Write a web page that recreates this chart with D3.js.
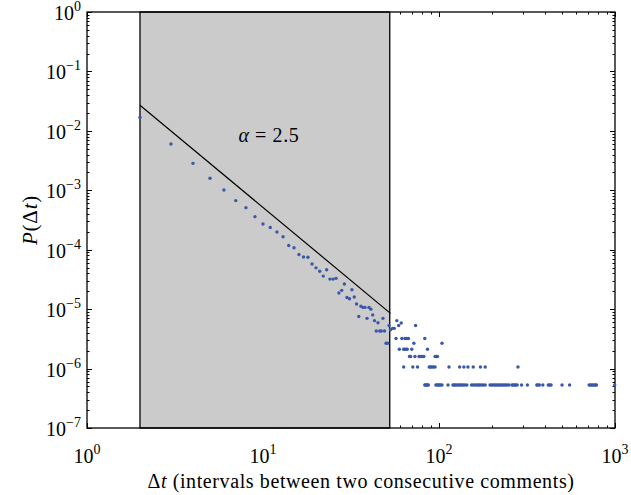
<!DOCTYPE html>
<html><head><meta charset="utf-8">
<script src="https://cdn.jsdelivr.net/npm/d3@7"></script>
<style>body{margin:0;background:#fff}</style>
</head><body><svg id="c" width="631" height="495"></svg>
<script>
// ---- data ----
const headDt = [2,3,4,5,6,7,8,9,10,11,12,13,14,15,16,17,18,19,20,21,22,23,24,25,26,27,28,29,30,31,32,33,34,35,36,37,38,39,40,41,42,43,44,45,46,47,48,49,50,51,52,53];
const headP = [1.69e-2,6.0e-3,2.84e-3,1.59e-3,1.01e-3,6.7e-4,5.1e-4,3.6e-4,2.71e-4,2.36e-4,1.99e-4,1.65e-4,1.18e-4,1.08e-4,8.3e-5,7.55e-5,7.45e-5,5.75e-5,4.95e-5,4.35e-5,3.6e-5,4.6e-5,3.2e-5,3.2e-5,3.3e-5,1.87e-5,2.07e-5,2.65e-5,1.57e-5,1.5e-5,2.12e-5,1.6e-5,1.22e-5,7.5e-6,1.12e-5,1.07e-5,1.07e-5,7.0e-6,1.07e-5,1.0e-5,8.0e-6,6.4e-6,4.3e-6,5.9e-6,4.3e-6,4.3e-6,7.0e-6,4.3e-6,2.66e-6,2.66e-6,5.3e-6,4.5e-6];
const tailLevels = [6.4e-6,5.85e-6,5.3e-6,4.75e-6,3.2e-6,2.66e-6,2.12e-6,1.6e-6,1.06e-6,5.3e-7];
const tailDt = [
  [57.6],
  [61],
  [59,73.6],
  [54.5,55.7],
  [57,61.5,64,65.5,67,83],
  [72,104],
  [59.5,63,64,65,66,70,86],
  [68,69,73,77,78,80,82,95,96.5,98],
  [63,71,75.5,88,89.5,91,93,95,114,131,138.5,146,156.5,172,183,281],
  [83,84,85,86,87,96,97.5,99,100.5,102,104,112.5,120,122,124,126.5,129,131.5,134,137,140,144,153,156,160,163.5,167,170,174,178,183,195,199,203.5,207.5,211.5,216,220.5,225,229.5,234,239,244,250,260,264,269,273,278,294.5,318,359.5,365,372,389,418,425,433.5,500,552,713,725,738,750,763,775,785,996]
];
const fitDt = [2, 53];
const fitP = [0.027, 8.5e-6];
const spanDt = [2, 52.5];
const xTickExp = [0,1,2,3];
const yTickExp = [0,-1,-2,-3,-4,-5,-6,-7];
const labelPos = [10.8, 6.6e-3];

// ---- drawing ----
const W = 631, H = 495;
const m = {l:87, r:615, t:12, b:428};
const svg = d3.select('#c');
const FONT = '"Liberation Serif","DejaVu Serif",serif';
svg.append('rect').attr('width',W).attr('height',H).attr('fill','#fff');

const x = d3.scaleLog().domain([1,1000]).range([m.l,m.r]);
const y = d3.scaleLog().domain([1e-7,1]).range([m.b,m.t]);

// ticks (inward, all sides)
const tg = svg.append('g').attr('stroke','#000').attr('stroke-width',1);
const xt = [], yt = [];
for (let e=0;e<3;e++) for (let k=1;k<10;k++) xt.push({v:k*Math.pow(10,e), major:k===1});
xt.push({v:1000,major:true});
for (let e=-7;e<0;e++) for (let k=1;k<10;k++) yt.push({v:k*Math.pow(10,e), major:k===1});
yt.push({v:1,major:true});
xt.forEach(t=>{
  const px = Math.round(x(t.v))+0.5, L = t.major?5:2.5;
  tg.append('line').attr('x1',px).attr('x2',px).attr('y1',m.b).attr('y2',m.b-L);
  tg.append('line').attr('x1',px).attr('x2',px).attr('y1',m.t).attr('y2',m.t+L);
});
yt.forEach(t=>{
  const py = Math.round(y(t.v))+0.5, L = t.major?5:2.5;
  tg.append('line').attr('y1',py).attr('y2',py).attr('x1',m.l).attr('x2',m.l+L);
  tg.append('line').attr('y1',py).attr('y2',py).attr('x1',m.r).attr('x2',m.r-L);
});

// shaded span
svg.append('rect').attr('x',x(spanDt[0])).attr('y',m.t)
  .attr('width',x(spanDt[1])-x(spanDt[0])).attr('height',m.b-m.t)
  .attr('fill','#cbcbcb').attr('stroke','#000').attr('stroke-width',1.3);

// spines
svg.append('rect').attr('x',m.l).attr('y',m.t).attr('width',m.r-m.l).attr('height',m.b-m.t)
  .attr('fill','none').attr('stroke','#000').attr('stroke-width',1.3);

// fit line
svg.append('line').attr('x1',x(fitDt[0])).attr('y1',y(fitP[0]))
  .attr('x2',x(fitDt[1])).attr('y2',y(fitP[1])).attr('stroke','#000').attr('stroke-width',1.2);

// points
const pts = headDt.map((d,i)=>[d,headP[i]]);
tailDt.forEach((row,i)=>row.forEach(d=>pts.push([d,tailLevels[i]])));
svg.append('g').selectAll('circle').data(pts).join('circle')
  .attr('cx',d=>x(d[0])).attr('cy',d=>y(d[1])).attr('r',1.7).attr('fill','#3a58aa');

// annotation
const ann = svg.append('text').attr('x',x(labelPos[0])).attr('y',y(labelPos[1]))
  .attr('text-anchor','middle').attr('font-family',FONT).attr('font-size',20)
  .attr('letter-spacing',0.6);
ann.append('tspan').attr('font-style','italic').text('α');
ann.append('tspan').text(' = 2.5');

// tick labels
xTickExp.forEach(e=>{
  const t = svg.append('text').attr('x',x(Math.pow(10,e))).attr('y',463)
    .attr('text-anchor','middle').attr('font-family',FONT).attr('font-size',20);
  t.append('tspan').text('10');
  t.append('tspan').attr('dy',-9).attr('font-size',14).text(String(e).replace('-','−'));
});
yTickExp.forEach(e=>{
  const t = svg.append('text').attr('x',81).attr('y',y(Math.pow(10,e))+8)
    .attr('text-anchor','end').attr('font-family',FONT).attr('font-size',20);
  t.append('tspan').text('10');
  t.append('tspan').attr('dy',-9).attr('font-size',14).text(String(e).replace('-','−'));
});

// axis labels
const xl = svg.append('text').attr('x',361).attr('y',488).attr('text-anchor','middle')
  .attr('font-family',FONT).attr('font-size',20).attr('letter-spacing',0.6);
xl.append('tspan').text('Δ');
xl.append('tspan').attr('font-style','italic').text('t');
xl.append('tspan').text(' (intervals between two consecutive comments)');

const yl = svg.append('text').attr('transform','translate(37,220) rotate(-90)').attr('text-anchor','middle')
  .attr('font-family',FONT).attr('font-size',21).attr('letter-spacing',0.8);
yl.append('tspan').attr('font-style','italic').text('P');
yl.append('tspan').text('(Δ');
yl.append('tspan').attr('font-style','italic').text('t');
yl.append('tspan').text(')');
</script></body></html>
